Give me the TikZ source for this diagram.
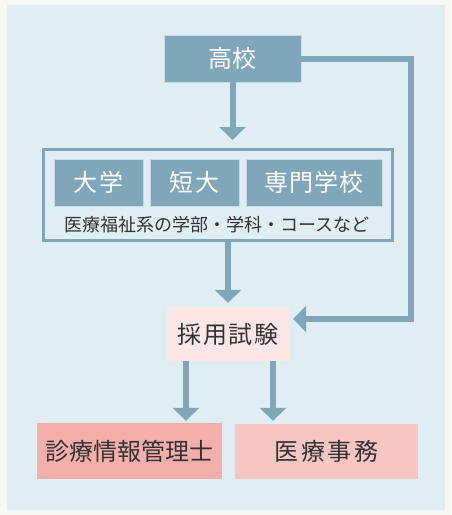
\documentclass[tikz,border=0pt]{standalone}
\usepackage{fontspec}
\setmainfont{Noto Sans CJK JP}
\usetikzlibrary{arrows.meta}
\definecolor{outerbg}{HTML}{F7F8F3}
\definecolor{panel}{HTML}{E0EDF3}
\definecolor{steel}{HTML}{7FA6B9}
\definecolor{steeledge}{HTML}{C8DCE6}
\definecolor{pinklight}{HTML}{FCE6E6}
\definecolor{salmon}{HTML}{F4AEAB}
\definecolor{pinkmid}{HTML}{F7C6C3}
\definecolor{darktext}{HTML}{333333}
\newcommand{\lsp}[1]{\addfontfeature{LetterSpace=#1}}
\tikzset{
  bluebox/.style={fill=steel, draw=steeledge, line width=0.6pt, text=white, inner sep=0pt,
    font=\fontsize{24}{24}\selectfont},
  pinkbox/.style={draw=none, text=darktext, inner sep=0pt, font=\fontsize{24}{24}\selectfont},
  groupbox/.style={draw=steel, line width=3pt, fill=panel, inner sep=0pt},
  arr/.style={draw=steel, line width=6pt, line join=miter,
    -{Triangle[width=26pt,length=13pt]}},
}
\begin{document}
\begin{tikzpicture}[x=1pt,y=-1pt]
\fill[outerbg] (0,0) rectangle (451,515);
\fill[panel] (7,5) rectangle (445,510);
\useasboundingbox (0,0) rectangle (451,515);

\node[bluebox, minimum width=137pt, minimum height=47pt] (hs) at (232.5,58.5) {\lsp{3}高校};
\node[groupbox, minimum width=349pt, minimum height=91pt] (grp) at (218,195) {};
\node[bluebox, minimum width=89pt, minimum height=47pt] (uni) at (98.5,182.5) {\lsp{12}大学};
\node[bluebox, minimum width=89pt, minimum height=47pt] (jc) at (194.5,182.5) {\lsp{6}短大};
\node[bluebox, minimum width=136pt, minimum height=47pt] (voc) at (314,182.5) {\lsp{5}専門学校};
\node[text=darktext, inner sep=0pt, font=\fontsize{18}{18}\selectfont] (note) at (217,225) {医療福祉系の学部・学科・コースなど};

\node[pinkbox, fill=pinklight, minimum width=122pt, minimum height=54pt] (exam) at (228,334) {\lsp{8}採用試験};
\node[pinkbox, fill=salmon, minimum width=185pt, minimum height=56pt] (him) at (129.5,451) {診療情報管理士};
\node[pinkbox, fill=pinkmid, minimum width=183pt, minimum height=55pt] (med) at (326.5,451.5) {\lsp{11}医療事務};

\coordinate (rc) at (411,319);
\coordinate (ea) at (186,361);
\coordinate (eb) at (273,361);

\draw[arr, shorten >=8pt] (hs.south) -- (hs.south |- grp.north);
\draw[arr, shorten >=4pt] (grp.south -| exam.north) -- (exam.north);
\draw[arr, shorten >=4pt] (hs.east) -| (rc) -- (rc -| exam.east);
\draw[arr, shorten >=2pt] (ea) -- (ea |- him.north);
\draw[arr, shorten >=3pt] (eb) -- (eb |- med.north);
\end{tikzpicture}
\end{document}
